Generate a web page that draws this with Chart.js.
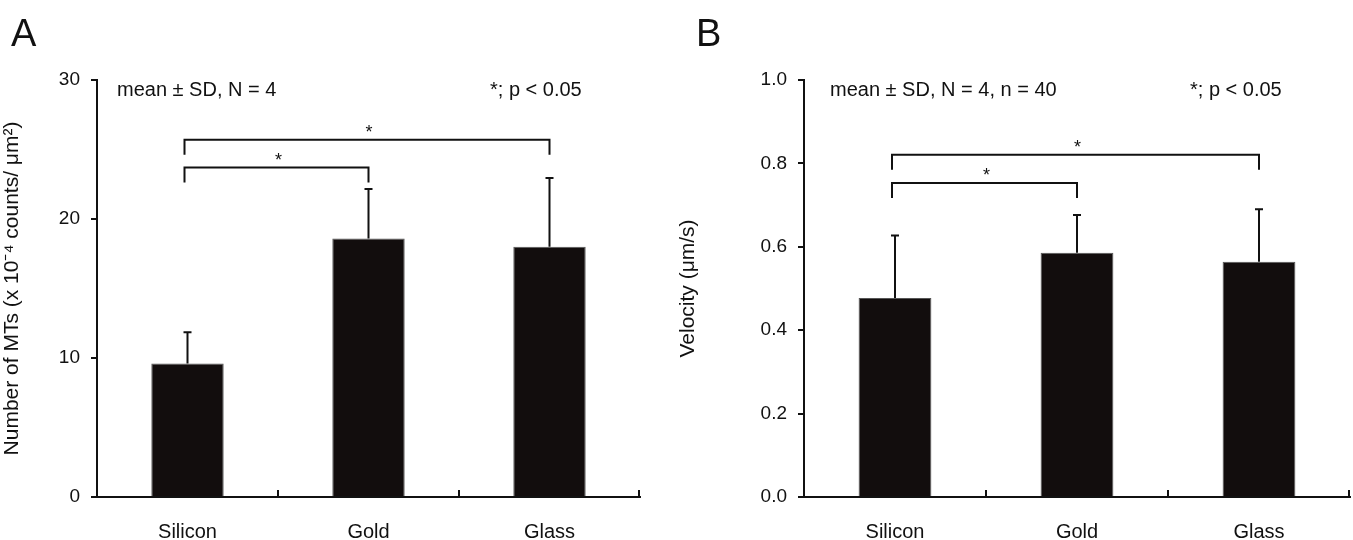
<!DOCTYPE html>
<html>
<head>
<meta charset="utf-8">
<script src="https://cdn.jsdelivr.net/npm/chart.js@4.4.0/dist/chart.umd.min.js"></script>
<style>
  body { margin:0; background:#fff; font-family:"Liberation Sans", Arial, sans-serif; }
  .wrap { position:relative; width:1353px; height:540px; }
  .panel { position:absolute; top:0; width:676px; height:540px; }
  .letter { position:absolute; top:12px; font-size:38px; color:#111; }
</style>
</head>
<body>
<div class="wrap">
  <div class="panel" style="left:0"><canvas id="chartA"></canvas></div>
  <div class="panel" style="left:676px;width:677px"><canvas id="chartB"></canvas></div>
  <div class="letter" style="left:11px">A</div>
  <div class="letter" style="left:696px">B</div>
</div>
<script>
const categories = ['Silicon', 'Gold', 'Glass'];

// panel A: number of MTs
const mtMeans = [9.6, 18.6, 18.0];
const mtSD = [2.25, 3.55, 4.95];
const mtTicks = [0, 10, 20, 30];
const mtBrackets = [
  { from: 0, to: 1, y: 23.7, label: '*' },
  { from: 0, to: 2, y: 25.7, label: '*' }
];

// panel B: velocity
const velMeans = [0.477, 0.586, 0.564];
const velSD = [0.15, 0.09, 0.126];
const velTicks = [0, 0.2, 0.4, 0.6, 0.8, 1.0];
const velBrackets = [
  { from: 0, to: 1, y: 0.753, label: '*' },
  { from: 0, to: 2, y: 0.821, label: '*' }
];

const FONT = '"Liberation Sans", Arial, sans-serif';
const INK = '#111';

// error bars, significance brackets, upward x ticks, corner notes
const extras = {
  id: 'extras',
  afterDatasetsDraw(chart, args, opts) {
    const c = chart.ctx, x = chart.scales.x, y = chart.scales.y, area = chart.chartArea;
    c.save();
    c.strokeStyle = INK; c.fillStyle = INK; c.lineWidth = 2;

    // error bars
    opts.means.forEach((m, i) => {
      const px = x.getPixelForValue(i);
      const top = y.getPixelForValue(m + opts.sd[i]);
      c.beginPath();
      c.moveTo(px, y.getPixelForValue(m)); c.lineTo(px, top);
      c.moveTo(px - 4, top); c.lineTo(px + 4, top);
      c.stroke();
    });

    // x ticks pointing up, at category edges
    for (let i = 0; i < categories.length; i++) {
      const px = i < categories.length - 1
        ? (x.getPixelForValue(i) + x.getPixelForValue(i + 1)) / 2
        : area.right - 1;
      c.beginPath(); c.moveTo(px, area.bottom); c.lineTo(px, area.bottom - 7); c.stroke();
    }

    // brackets
    c.font = '18px ' + FONT; c.textAlign = 'center'; c.textBaseline = 'alphabetic';
    opts.brackets.forEach(b => {
      const x1 = x.getPixelForValue(b.from) - 3, x2 = x.getPixelForValue(b.to);
      const py = y.getPixelForValue(b.y);
      c.beginPath();
      c.moveTo(x1, py + 15); c.lineTo(x1, py); c.lineTo(x2, py); c.lineTo(x2, py + 15);
      c.stroke();
      c.fillText(b.label, (x1 + x2) / 2 + 2, py - 2);
    });

    // notes
    c.font = '20px ' + FONT; c.textBaseline = 'middle';
    c.textAlign = 'left';
    c.fillText(opts.noteLeft, area.left + opts.noteLeftDx, area.top + 10);
    c.fillText('*; p < 0.05', area.left + opts.noteRightDx, area.top + 10);
    c.restore();
  }
};

function makeChart(id, means, sd, ticks, yMax, title, brackets, yWidth, padRight, decimals, notes) {
  return new Chart(document.getElementById(id), {
    type: 'bar',
    data: {
      labels: categories,
      datasets: [{
        data: means,
        backgroundColor: '#120d0d',
        borderColor: '#555',
        borderWidth: 1,
        barPercentage: 0.4,
        categoryPercentage: 1
      }]
    },
    options: {
      responsive: true,
      maintainAspectRatio: false,
      animation: false,
      layout: { padding: { top: 80, right: padRight, bottom: 0, left: 0 } },
      plugins: {
        legend: { display: false },
        tooltip: { enabled: false },
        extras: Object.assign({ means: means, sd: sd, brackets: brackets }, notes)
      },
      scales: {
        x: {
          offset: true,
          grid: { display: false },
          border: { display: true, color: INK, width: 2 },
          ticks: { color: INK, font: { family: FONT, size: 20 }, padding: 15 },
          afterFit: s => { s.height = 43; }
        },
        y: {
          min: 0,
          max: yMax,
          afterBuildTicks: s => { s.ticks = ticks.map(v => ({ value: v })); },
          grid: { drawOnChartArea: false, drawTicks: true, tickLength: 6, color: INK, lineWidth: 2 },
          border: { display: true, color: INK, width: 2 },
          ticks: {
            color: INK,
            font: { family: FONT, size: 19 },
            padding: 11,
            callback: v => v.toFixed(decimals)
          },
          title: {
            display: true,
            text: title,
            color: INK,
            font: { family: FONT, size: 21 },
            padding: { top: 0, bottom: 0 }
          },
          afterFit: s => { s.width = yWidth; }
        }
      }
    },
    plugins: [extras]
  });
}

makeChart('chartA', mtMeans, mtSD, mtTicks, 30,
  'Number of MTs (x 10\u207B\u2074 counts/ \u03BCm\u00B2)', mtBrackets, 97, 36, 0,
  { noteLeft: 'mean \u00B1 SD, N = 4', noteLeftDx: 20, noteRightDx: 393 });

makeChart('chartB', velMeans, velSD, velTicks, 1.0,
  'Velocity (\u03BCm/s)', velBrackets, 128, 3, 1,
  { noteLeft: 'mean \u00B1 SD, N = 4, n = 40', noteLeftDx: 26, noteRightDx: 386 });
</script>
</body>
</html>
